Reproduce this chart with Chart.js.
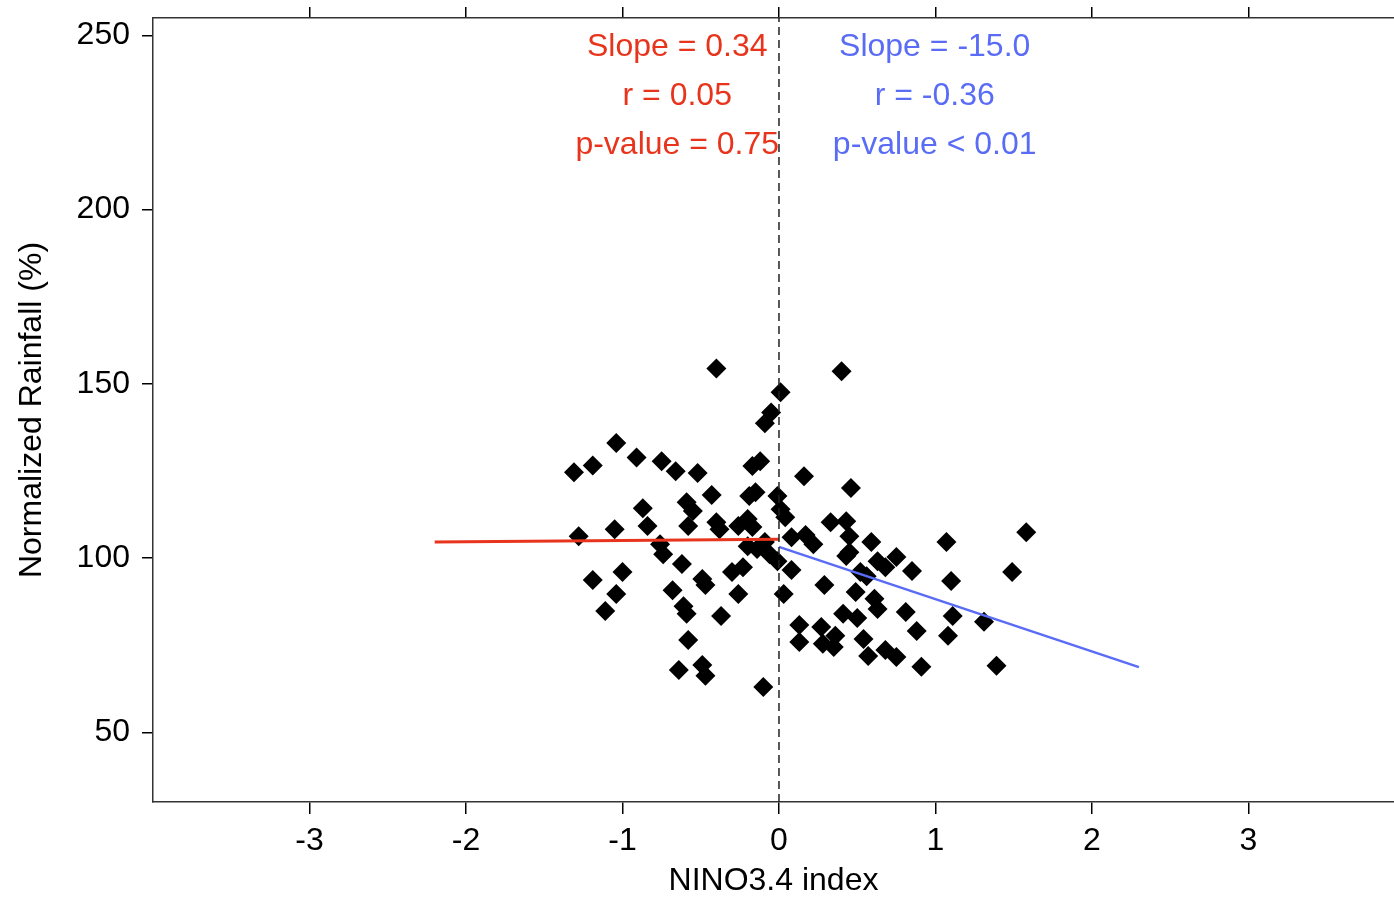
<!DOCTYPE html>
<html>
<head>
<meta charset="utf-8">
<script src="https://cdn.jsdelivr.net/npm/chart.js@4/dist/chart.umd.min.js"></script>
<style>
  html, body { margin: 0; padding: 0; background: #fff; }
  canvas { display: block; }
</style>
</head>
<body>
<canvas id="chartCanvas" width="1394" height="897"></canvas>
<script>
// NINO3.4 index (x) and normalized rainfall in % (y)
const ninoIndex = [
    -1.31, -1.19, -1.04, -0.91, -0.75, -0.66, -0.52, -0.40, -0.43, -0.59,
    -0.55, -0.87, -0.84, -1.05, -1.28, -0.58, -0.40, -0.38, -0.26, -0.20,
    -0.17, -0.19, -0.15, -0.12, -0.17, -0.09, -0.05, 0.01, -0.01, 0.01,
    0.04, -0.76, -0.74, -0.62, -1.19, -1.00, -1.04, -1.11, -0.68, -0.49,
    -0.47, -0.61, -0.59, -0.37, -0.26, -0.30, -0.23, -0.58, -0.64, -0.49,
    -0.47, -0.10, -0.20, -0.14, -0.09, -0.06, -0.01,
    0.40, 0.16, 0.46, 0.33, 0.43, 0.45, 0.08, 0.17, 0.22, 0.59,
    1.07, 1.58, 0.08, 0.45, 0.43, 0.63, 0.68, 0.75, 0.85, 0.56,
    0.52, 1.10, 1.49, 0.29, 0.49, 0.03, 0.61, 0.63, 0.81, 1.11,
    1.31, 0.13, 0.27, 0.36, 0.41, 0.50, 0.88, 1.08, 0.13, 0.28,
    0.35, 0.54, 0.57, 0.68, 0.75, 0.91, 1.39
];
const rainfall = [
    124.6, 126.6, 133.0, 128.9, 127.8, 124.9, 124.4, 154.4, 118.1, 116.0,
    113.5, 114.3, 109.2, 108.3, 106.3, 109.2, 110.3, 108.3, 109.2, 111.2,
    108.9, 117.8, 118.9, 127.8, 126.4, 138.7, 141.8, 147.6, 117.8, 114.0,
    111.7, 104.0, 101.1, 98.3, 93.7, 96.0, 89.7, 84.8, 90.8, 94.0,
    92.3, 86.2, 84.0, 83.4, 89.7, 96.0, 97.4, 76.5, 67.9, 69.3,
    66.2, 63.0, 103.4, 102.6, 104.6, 101.1, 99.1,
    153.6, 123.5, 120.1, 110.3, 110.6, 106.3, 106.0, 106.6, 104.0, 104.6,
    104.6, 107.4, 96.6, 101.7, 100.6, 99.1, 97.4, 100.3, 96.3, 94.8,
    96.0, 93.4, 96.0, 92.3, 90.3, 89.7, 88.3, 85.4, 84.5, 83.4,
    81.7, 80.8, 80.2, 77.7, 84.0, 82.8, 79.1, 77.7, 75.9, 75.4,
    74.5, 76.8, 71.9, 73.6, 71.6, 68.8, 69.1
];

// regression lines (La Nina side in red, El Nino side in blue)
const redFitX = [-2.2, 0];
const redFitY = [104.65, 105.4];
const blueFitX = [0, 2.3];
const blueFitY = [103.2, 68.7];

// vertical divider at index 0
const dividerX = [0, 0];
const dividerY = [30, 255];

const xTicks = [-3, -2, -1, 0, 1, 2, 3];
const yTicks = [50, 100, 150, 200, 250];

const redStats = ['Slope = 0.34', 'r = 0.05', 'p-value = 0.75'];
const blueStats = ['Slope = -15.0', 'r = -0.36', 'p-value < 0.01'];

const RED = '#e8341c';
const BLUE = '#5a6cf5';
const AXIS = '#333333';
const FONT = '"Liberation Sans", Arial, Helvetica, sans-serif';

function toPoints(xs, ys) {
    let pts = [];
    for (let i = 0; i < xs.length; i++) {
        pts.push({x: xs[i], y: ys[i]});
    }
    return pts;
}

function fixSize(scale, w, h) {
    // force the axis box size and drop the label overhang padding
    if (w !== null) scale.width = w;
    if (h !== null) scale.height = h;
    scale.paddingTop = 0;
    scale.paddingBottom = 0;
    scale.paddingLeft = 0;
    scale.paddingRight = 0;
}

// writes the statistics of each fit at the top of the plot
const statsText = {
    id: 'statsText',
    afterDatasetsDraw(chart) {
        const ctx = chart.ctx;
        const xs = chart.scales.x;
        const ys = chart.scales.y;
        const rows = [246.5, 232.5, 218.5];  // y values of the three text rows
        ctx.save();
        ctx.font = '32px ' + FONT;
        ctx.textAlign = 'center';
        ctx.textBaseline = 'middle';
        for (let i = 0; i < rows.length; i++) {
            ctx.fillStyle = RED;
            ctx.fillText(redStats[i], xs.getPixelForValue(-0.65), ys.getPixelForValue(rows[i]));
            ctx.fillStyle = BLUE;
            ctx.fillText(blueStats[i], xs.getPixelForValue(0.995), ys.getPixelForValue(rows[i]));
        }
        ctx.restore();
    }
};

new Chart(document.getElementById('chartCanvas').getContext('2d'), {
    type: 'scatter',
    data: {
        datasets: [
            {
                label: 'divider',
                type: 'line',
                data: toPoints(dividerX, dividerY),
                borderColor: '#222',
                borderWidth: 1.5,
                borderDash: [8, 5],
                pointRadius: 0,
                fill: false,
                order: 0
            },
            {
                label: 'fit negative',
                type: 'line',
                data: toPoints(redFitX, redFitY),
                borderColor: RED,
                borderWidth: 3,
                pointRadius: 0,
                fill: false,
                order: 0
            },
            {
                label: 'fit positive',
                type: 'line',
                data: toPoints(blueFitX, blueFitY),
                borderColor: BLUE,
                borderWidth: 2.5,
                pointRadius: 0,
                fill: false,
                order: 0
            },
            {
                label: 'years',
                data: toPoints(ninoIndex, rainfall),
                pointStyle: 'rectRot',
                pointRadius: 10,
                backgroundColor: '#000',
                borderWidth: 0,
                order: 1
            }
        ]
    },
    options: {
        responsive: false,
        animation: false,
        devicePixelRatio: 1,
        events: [],
        layout: { padding: 0, autoPadding: false },
        plugins: {
            legend: { display: false },
            tooltip: { enabled: false }
        },
        scales: {
            x: {
                type: 'linear',
                position: 'bottom',
                min: -4,
                max: 3.93,
                afterBuildTicks: (s) => { s.ticks = xTicks.map(v => ({value: v})); },
                afterFit: (s) => fixSize(s, null, 95),
                grid: { drawOnChartArea: false, tickLength: 12, color: '#000', lineWidth: 1.5 },
                border: { display: true, color: AXIS, width: 1.5 },
                ticks: {
                    padding: 8,
                    color: '#000',
                    font: { family: FONT, size: 32 },
                    callback: (v) => v.toString()
                },
                title: {
                    display: true,
                    text: 'NINO3.4 index',
                    color: '#000',
                    font: { family: FONT, size: 32, lineHeight: 1 },
                    padding: { top: 0, bottom: 0 }
                }
            },
            x2: {
                type: 'linear',
                position: 'top',
                min: -4,
                max: 3.93,
                afterBuildTicks: (s) => { s.ticks = xTicks.map(v => ({value: v})); },
                afterFit: (s) => fixSize(s, null, 18),
                grid: { drawOnChartArea: false, tickLength: 11, color: '#000', lineWidth: 1.5 },
                border: { display: true, color: AXIS, width: 1.5 },
                ticks: { display: false }
            },
            y: {
                type: 'linear',
                min: 30,
                max: 255,
                afterBuildTicks: (s) => { s.ticks = yTicks.map(v => ({value: v})); },
                afterFit: (s) => fixSize(s, 153, null),
                grid: { drawOnChartArea: false, tickLength: 11, color: '#000', lineWidth: 1.5 },
                border: { display: true, color: AXIS, width: 1.5 },
                ticks: {
                    padding: 12,
                    color: '#000',
                    font: { family: FONT, size: 32 }
                },
                title: {
                    display: true,
                    text: 'Normalized Rainfall (%)',
                    color: '#000',
                    font: { family: FONT, size: 32, lineHeight: 1.2 },
                    padding: { top: 13, bottom: 0 }
                }
            }
        }
    },
    plugins: [statsText]
});
</script>
</body>
</html>
